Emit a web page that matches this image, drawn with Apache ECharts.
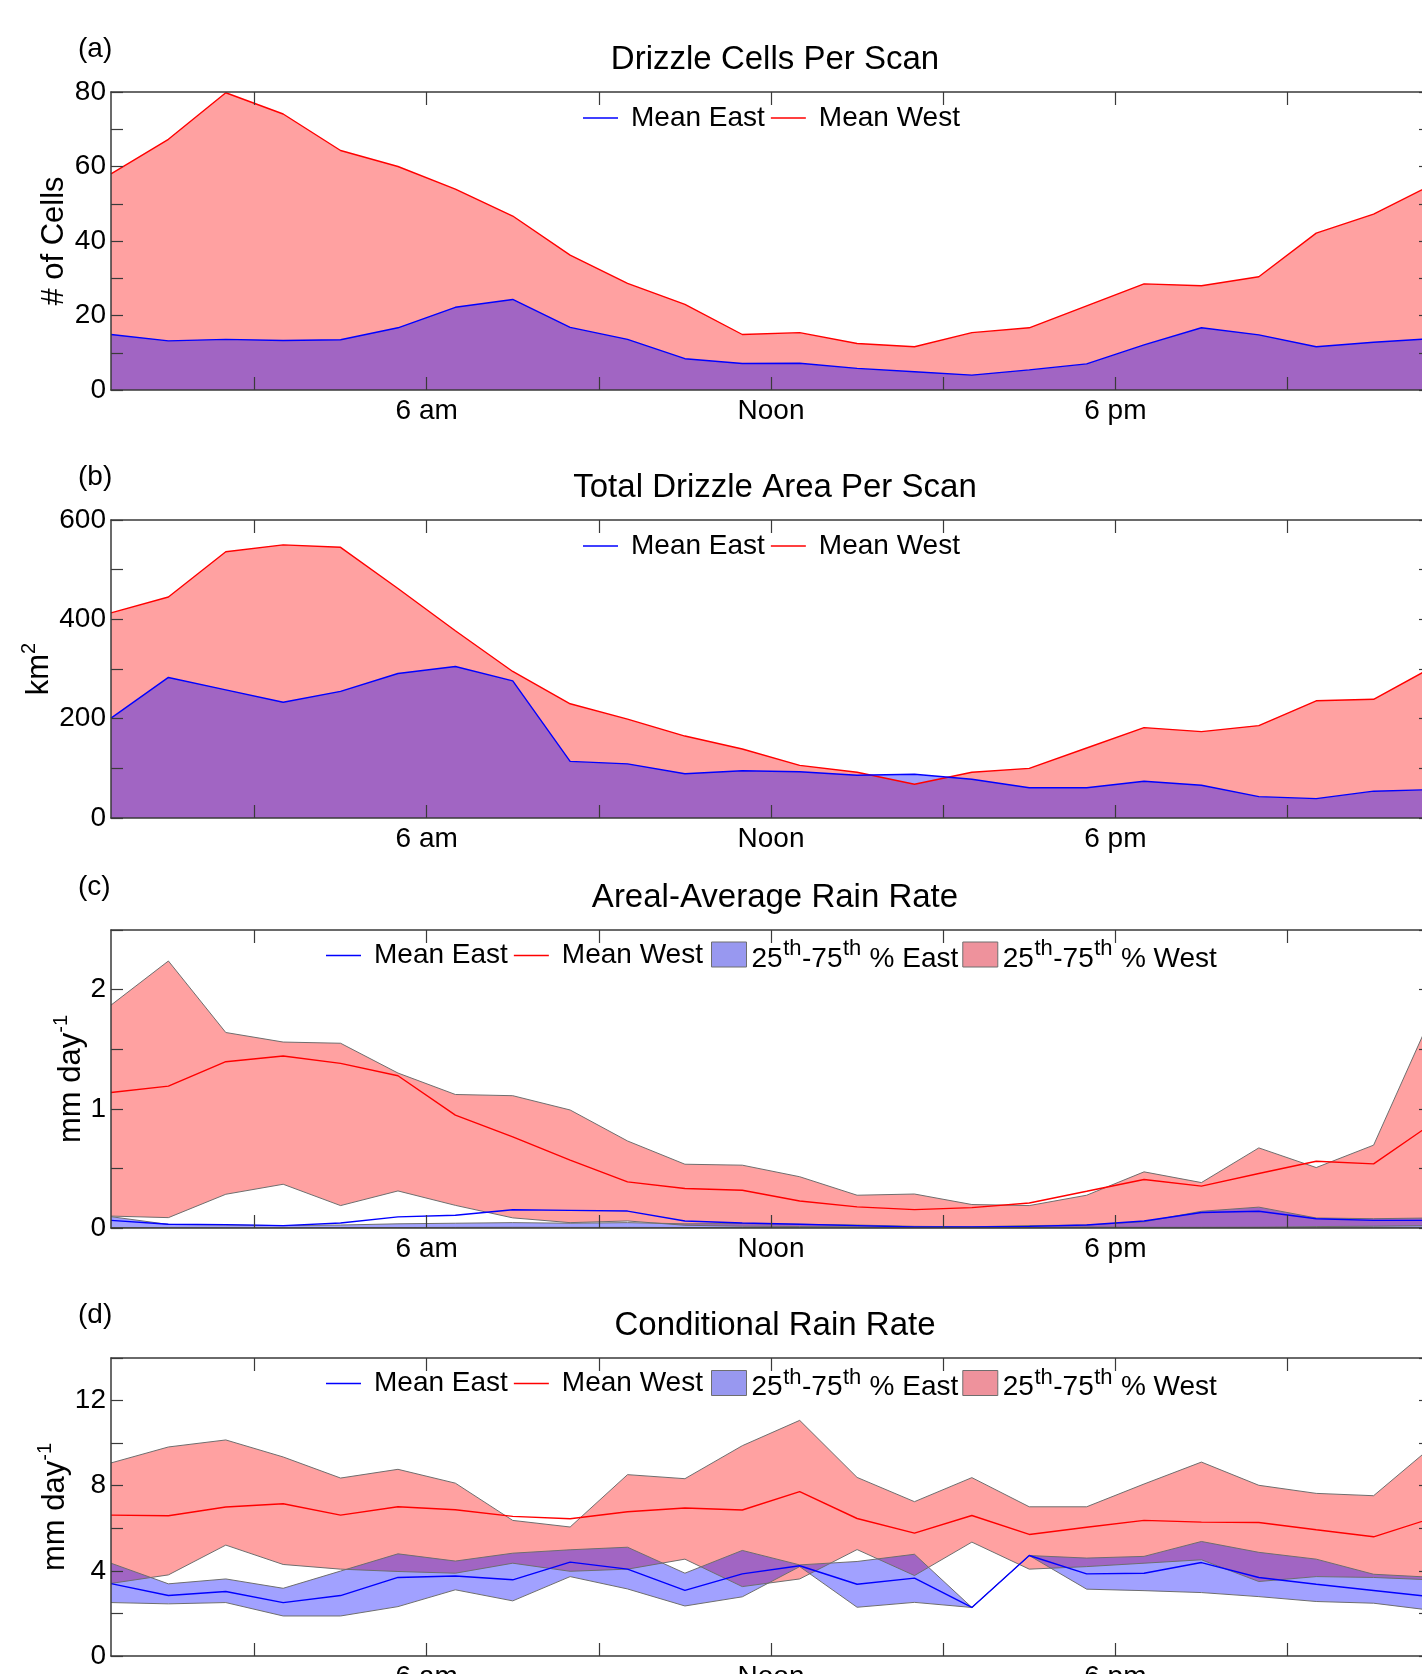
<!DOCTYPE html>
<html>
<head>
<meta charset="utf-8">
<script src="https://cdn.jsdelivr.net/npm/echarts@6/dist/echarts.min.js"></script>
<style>
html,body{margin:0;padding:0;background:#fff;}
#c{width:1422px;height:1674px;}
</style>
</head>
<body>
<div id="c"></div>
<script>
// ---------------- data ----------------
const HOURS = ['00:30','01:30','02:30','03:30','04:30','05:30','06:30','07:30','08:30','09:30','10:30','11:30',
               '12:30','13:30','14:30','15:30','16:30','17:30','18:30','19:30','20:30','21:30','22:30','23:30'];
const X_MIN = 0.5, X_MAX = 23.5;
const TICK_HOURS = [3, 6, 9, 12, 15, 18, 21];
const LABEL_HOURS = [6, 12, 18];
const LABEL_TEXT = ['6 am', 'Noon', '6 pm'];

// (a) Drizzle cells per scan
const cellsWest = [58.0, 67.3, 79.8, 74.1, 64.3, 60.0, 53.9, 46.7, 36.2, 28.6, 23.0, 14.9,
                   15.4, 12.5, 11.6, 15.4, 16.7, 22.6, 28.5, 28.0, 30.4, 42.1, 47.2, 55.0];
const cellsEast = [14.9, 13.2, 13.6, 13.3, 13.5, 16.7, 22.2, 24.3, 16.8, 13.6, 8.4, 7.1,
                   7.2, 5.8, 4.9, 4.0, 5.4, 7.0, 12.1, 16.7, 14.8, 11.6, 12.8, 13.8];

// (b) Total drizzle area per scan (km^2)
const areaWest = [413, 445, 536, 550, 545, 462, 377, 295, 230, 199, 165, 139,
                  106, 92, 68, 92, 100, 141, 182, 174, 186, 236, 239, 302];
const areaEast = [201, 283, 258, 233, 255, 291, 305, 276, 114, 109, 89, 95,
                  93, 86, 88, 78, 61, 61, 74, 66, 43, 39, 54, 57];

// (c) Areal-average rain rate (mm/day)
const rateWestHi   = [1.87, 2.24, 1.64, 1.56, 1.55, 1.30, 1.12, 1.11, 0.99, 0.73, 0.535, 0.527,
                      0.43, 0.275, 0.285, 0.197, 0.188, 0.275, 0.471, 0.381, 0.672, 0.507, 0.695, 1.77];
const rateWestMean = [1.137, 1.19, 1.395, 1.443, 1.381, 1.277, 0.947, 0.765, 0.569, 0.387, 0.331, 0.317,
                      0.227, 0.177, 0.154, 0.171, 0.21, 0.308, 0.407, 0.351, 0.457, 0.56, 0.538, 0.87];
const rateWestLo   = [0.100, 0.087, 0.283, 0.367, 0.188, 0.311, 0.19, 0.085, 0.045, 0.059, 0.023, 0.015,
                      0.012, 0.010, 0.008, 0.006, 0.006, 0.008, 0.006, 0.004, 0.004, 0.012, 0.015, 0.02];
const rateEastHi   = [0.095, 0.030, 0.025, 0.020, 0.025, 0.035, 0.040, 0.045, 0.040, 0.045, 0.035, 0.037,
                      0.031, 0.025, 0.014, 0.010, 0.020, 0.025, 0.052, 0.140, 0.175, 0.084, 0.078, 0.084];
const rateEastMean = [0.064, 0.031, 0.028, 0.020, 0.042, 0.093, 0.107, 0.153, 0.148, 0.142, 0.059, 0.042,
                      0.031, 0.020, 0.008, 0.008, 0.014, 0.025, 0.059, 0.130, 0.140, 0.078, 0.064, 0.064];
const rateEastLo   = [0.004, 0.003, 0.002, 0.002, 0.003, 0.004, 0.005, 0.006, 0.005, 0.005, 0.004, 0.004,
                      0.003, 0.002, 0.001, 0.001, 0.002, 0.003, 0.004, 0.006, 0.007, 0.006, 0.005, 0.005];

// (d) Conditional rain rate (mm/day)
const condWestHi   = [9.07, 9.82, 10.15, 9.35, 8.36, 8.77, 8.12, 6.37, 6.06, 8.52, 8.33, 9.88,
                      11.07, 8.39, 7.25, 8.38, 7.01, 7.01, 8.08, 9.11, 8.02, 7.64, 7.53, 9.8];
const condWestMean = [6.62, 6.59, 7.00, 7.15, 6.62, 7.01, 6.87, 6.56, 6.45, 6.78, 6.95, 6.86,
                      7.72, 6.46, 5.77, 6.60, 5.71, 6.05, 6.37, 6.29, 6.27, 5.93, 5.60, 6.46];
const condWestLo   = [3.41, 3.81, 5.21, 4.30, 4.08, 3.97, 3.89, 4.36, 3.98, 4.08, 4.55, 3.26,
                      3.62, 5.00, 3.78, 5.35, 4.08, 4.20, 4.36, 4.52, 3.50, 3.73, 3.69, 3.58];
const condEastHi   = [4.36, 3.39, 3.62, 3.18, 3.99, 4.80, 4.46, 4.83, 4.99, 5.11, 3.89, 4.96,
                      4.28, 4.44, 4.78, 2.28, 4.72, 4.60, 4.68, 5.38, 4.87, 4.55, 3.84, 3.70];
const condEastMean = [3.40, 2.84, 3.03, 2.51, 2.84, 3.69, 3.76, 3.58, 4.41, 4.08, 3.08, 3.86,
                      4.24, 3.37, 3.66, 2.28, 4.72, 3.86, 3.89, 4.39, 3.69, 3.37, 3.08, 2.78];
const condEastLo   = [2.51, 2.45, 2.51, 1.88, 1.88, 2.32, 3.11, 2.59, 3.73, 3.15, 2.35, 2.78,
                      4.20, 2.29, 2.52, 2.28, 4.72, 3.14, 3.07, 2.98, 2.79, 2.56, 2.48, 2.15];

// y axis ticks / labels
const Y_A_MAX = 80,  Y_A_TICKS = [0,10,20,30,40,50,60,70,80], Y_A_LABELS = [0,20,40,60,80];
const Y_B_MAX = 600, Y_B_TICKS = [0,100,200,300,400,500,600], Y_B_LABELS = [0,200,400,600];
const Y_C_MAX = 2.5, Y_C_TICKS = [0,0.5,1,1.5,2,2.5], Y_C_LABELS = [0,1,2];
const Y_D_MAX = 14,  Y_D_TICKS = [0,2,4,6,8,10,12,14], Y_D_LABELS = [0,4,8,12];

const TITLES = ['Drizzle Cells Per Scan', 'Total Drizzle Area Per Scan', 'Areal-Average Rain Rate', 'Conditional Rain Rate'];
const TAGS = ['(a)', '(b)', '(c)', '(d)'];
const YNAMES = ['# of Cells', 'km{s|2}', 'mm day{s|-1}', 'mm day{s|-1}'];

// ---------------- style / layout ----------------
const FONT = '"Liberation Sans", Arial, Helvetica, sans-serif';
const AX = '#3a3a3a';
const EDGE = '#6e6e6e';
const RED = '#ff0000', BLUE = '#0000ff';
const RED_FILL = 'rgba(255,0,0,0.37)', BLUE_FILL = 'rgba(0,0,255,0.37)';
const GRID_LEFT = 111, GRID_W = 1320, GRID_H = 298;
const GRID_TOPS = [92, 520, 930, 1358];
const NAME_GAPS = [37, 52, 20, 36];
const TITLE_CX = 775;

const yCfg = [
  {max: Y_A_MAX, ticks: Y_A_TICKS, labels: Y_A_LABELS},
  {max: Y_B_MAX, ticks: Y_B_TICKS, labels: Y_B_LABELS},
  {max: Y_C_MAX, ticks: Y_C_TICKS, labels: Y_C_LABELS},
  {max: Y_D_MAX, ticks: Y_D_TICKS, labels: Y_D_LABELS}
];

const title = [];
const grid = [];
const xAxis = [];
const yAxis = [];
const series = [];
const legend = [];

const axisLineStyle = {show: true, onZero: false, lineStyle: {color: AX, width: 1.5}};
const tickStyle = {color: AX, width: 1.2};

for (let i = 0; i < 4; i++) {
  const top = GRID_TOPS[i];
  title.push({
    text: TITLES[i], left: TITLE_CX, top: top - 49, textAlign: 'center', padding: 0,
    textStyle: {fontSize: 33, lineHeight: 33, fontWeight: 'normal', color: '#000', fontFamily: FONT}
  });
  title.push({
    text: TAGS[i], left: 78, top: top - 57, padding: 0,
    textStyle: {fontSize: 28, lineHeight: 28, fontWeight: 'normal', color: '#000', fontFamily: FONT}
  });
  grid.push({left: GRID_LEFT, top: top, width: GRID_W, height: GRID_H, containLabel: false, outerBoundsMode: 'none'});

  xAxis.push({type: 'category', gridIndex: i, data: HOURS, boundaryGap: false, show: false, position: 'bottom'});
  xAxis.push({
    type: 'value', gridIndex: i, position: 'bottom', min: X_MIN, max: X_MAX, z: 5,
    axisLine: axisLineStyle,
    axisTick: {show: true, inside: true, length: 13, customValues: TICK_HOURS, lineStyle: tickStyle},
    axisLabel: {show: true, customValues: LABEL_HOURS, formatter: v => LABEL_TEXT[LABEL_HOURS.indexOf(v)] || '',
                margin: 7, fontSize: 28, color: '#000', fontFamily: FONT},
    splitLine: {show: false}
  });
  xAxis.push({
    type: 'value', gridIndex: i, position: 'top', min: X_MIN, max: X_MAX, z: 5,
    axisLine: axisLineStyle,
    axisTick: {show: true, inside: true, length: 13, customValues: TICK_HOURS, lineStyle: tickStyle},
    axisLabel: {show: false}, splitLine: {show: false}
  });

  const yc = yCfg[i];
  yAxis.push({
    type: 'value', gridIndex: i, position: 'left', min: 0, max: yc.max, z: 5,
    axisLine: axisLineStyle,
    axisTick: {show: true, inside: true, length: 12, customValues: yc.ticks, lineStyle: tickStyle},
    axisLabel: {show: true, customValues: yc.labels, margin: 5, fontSize: 28, color: '#000', fontFamily: FONT},
    splitLine: {show: false},
    name: YNAMES[i], nameLocation: 'middle', nameRotate: 90, nameGap: NAME_GAPS[i], nameMoveOverlap: false,
    nameTextStyle: {fontSize: 31, lineHeight: 40, color: '#000', fontFamily: FONT,
      rich: {s: {fontSize: 20, lineHeight: 20, verticalAlign: 'top', color: '#000', fontFamily: FONT}}}
  });
  yAxis.push({
    type: 'value', gridIndex: i, position: 'right', min: 0, max: yc.max, z: 5,
    axisLine: axisLineStyle,
    axisTick: {show: true, inside: true, length: 12, customValues: yc.ticks, lineStyle: tickStyle},
    axisLabel: {show: false}, splitLine: {show: false}
  });
}

function meanLine(name, data, color, i, withArea) {
  const s = {
    type: 'line', name: name, xAxisIndex: 3 * i, yAxisIndex: 2 * i, data: data,
    symbol: 'none', showSymbol: false, silent: true,
    lineStyle: {color: color, width: 1.4}, itemStyle: {color: color}
  };
  if (withArea) s.areaStyle = {color: color === RED ? RED_FILL : BLUE_FILL, opacity: 1};
  return s;
}
function band(nameBase, lo, hi, fill, i, stackId) {
  const diff = hi.map((v, k) => +(v - lo[k]).toFixed(4));
  return [
    {type: 'line', name: nameBase + '_lo' + i, xAxisIndex: 3 * i, yAxisIndex: 2 * i, data: lo, stack: stackId,
     symbol: 'none', silent: true, lineStyle: {color: EDGE, width: 1}, itemStyle: {color: EDGE}},
    {type: 'line', name: nameBase, xAxisIndex: 3 * i, yAxisIndex: 2 * i, data: diff, stack: stackId,
     symbol: 'none', silent: true, lineStyle: {color: EDGE, width: 1}, itemStyle: {color: EDGE},
     areaStyle: {color: fill, opacity: 1}}
  ];
}

// (a)
series.push(meanLine('Mean West', cellsWest, RED, 0, true));
series.push(meanLine('Mean East', cellsEast, BLUE, 0, true));
// (b)
series.push(meanLine('Mean West', areaWest, RED, 1, true));
series.push(meanLine('Mean East', areaEast, BLUE, 1, true));
// (c)
series.push(...band('25th-75th % West', rateWestLo, rateWestHi, RED_FILL, 2, 'wc'));
series.push(...band('25th-75th % East', rateEastLo, rateEastHi, BLUE_FILL, 2, 'ec'));
series.push(meanLine('Mean West', rateWestMean, RED, 2, false));
series.push(meanLine('Mean East', rateEastMean, BLUE, 2, false));
// (d)
series.push(...band('25th-75th % West', condWestLo, condWestHi, RED_FILL, 3, 'wd'));
series.push(...band('25th-75th % East', condEastLo, condEastHi, BLUE_FILL, 3, 'ed'));
series.push(meanLine('Mean West', condWestMean, RED, 3, false));
series.push(meanLine('Mean East', condEastMean, BLUE, 3, false));

// legends
function lineLegend(left, top) {
  return {
    left: left, top: top, padding: 0, orient: 'horizontal', selectedMode: false,
    itemWidth: 35, itemHeight: 1.5, itemGap: 6,
    data: [
      {name: 'Mean East', icon: 'rect', itemStyle: {color: BLUE, borderWidth: 0}},
      {name: 'Mean West', icon: 'rect', itemStyle: {color: RED, borderWidth: 0}}
    ],
    textStyle: {fontSize: 28, lineHeight: 28, color: '#000', fontFamily: FONT, padding: [0, 0, 0, 8]}
  };
}
function patchLegend(left, top) {
  return {
    left: left, top: top, padding: 0, orient: 'horizontal', selectedMode: false,
    itemWidth: 35, itemHeight: 25, itemGap: 4,
    data: [
      {name: '25th-75th % East', icon: 'rect', itemStyle: {color: 'rgb(152,152,240)', borderColor: EDGE, borderWidth: 1}},
      {name: '25th-75th % West', icon: 'rect', itemStyle: {color: 'rgb(238,146,156)', borderColor: EDGE, borderWidth: 1}}
    ],
    formatter: function (name) {
      const p = name.split('th');
      return '{m|' + p[0] + '}{s|th}{m|' + p[1] + '}{s|th}{m|' + p[2] + '}';
    },
    textStyle: {fontSize: 28, color: '#000', fontFamily: FONT,
      rich: {
        m: {fontSize: 28, lineHeight: 28, padding: [9, 0, 0, 0], color: '#000', fontFamily: FONT},
        s: {fontSize: 22, lineHeight: 22, padding: [2, 0.5, 13, 0.5], color: '#000', fontFamily: FONT}
      }}
  };
}
legend.push(lineLegend(583, 104));
legend.push(lineLegend(583, 532));
legend.push(lineLegend(326, 941.5));
legend.push(patchLegend(711, 936));
legend.push(lineLegend(326, 1369.5));
legend.push(patchLegend(711, 1364.5));

const option = {
  animation: false,
  backgroundColor: '#ffffff',
  textStyle: {fontFamily: FONT, color: '#000'},
  title: title,
  legend: legend,
  grid: grid,
  xAxis: xAxis,
  yAxis: yAxis,
  series: series
};

const chart = echarts.init(document.getElementById('c'), null, {renderer: 'canvas', width: 1422, height: 1674});
chart.setOption(option);
</script>
</body>
</html>
